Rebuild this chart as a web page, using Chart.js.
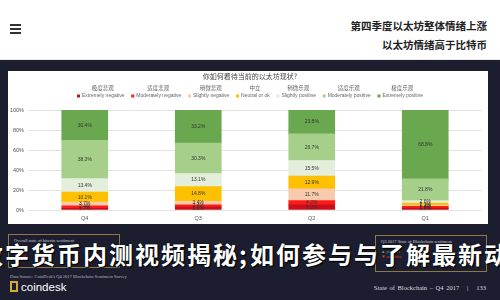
<!DOCTYPE html>
<html>
<head>
<meta charset="utf-8">
<script src="https://cdn.jsdelivr.net/npm/chart.js@4.4.1/dist/chart.umd.min.js"></script>
<style>
  html, body { margin: 0; padding: 0; }
  body { width: 500px; height: 300px; position: relative; overflow: hidden; background: #1c1e30; font-family: "Noto Sans CJK SC", "Liberation Sans", sans-serif; }
  #top { position: absolute; left: 0; top: 0; width: 500px; height: 59px; background: #fff; border-bottom: 1px solid #e8e8e8; }
  #burger { position: absolute; left: 10px; top: 24px; width: 11px; }
  #burger div { height: 2px; background: #333; margin-bottom: 2px; }
  #head { position: absolute; right: 13px; top: 16px; text-align: right; font-size: 10.5px; font-weight: bold; color: #222; line-height: 19px; }
  #panel { position: absolute; left: 8px; top: 71px; width: 480px; height: 153px; background: #fff; }
  #panel canvas { position: absolute; left: 0; top: 0; }
  .box { position: absolute; border: 1px solid #8c7a45; color: #ccc; font-family: "Liberation Serif", serif; font-size: 4.5px; padding: 3px 5px; box-sizing: border-box; }
  #caption { position: absolute; left: -21px; top: 236px; white-space: nowrap; font-size: 24px; font-weight: bold; letter-spacing: 2px; color: #fff; text-shadow: 0 0 2px #000, 1px 1px 1px #000; }
  #caption .p { display: inline-block; width: 11px; overflow: visible; }
  #src { position: absolute; left: 10px; top: 274px; font-family: "Liberation Serif", serif; font-size: 4.5px; color: #bbb; }
  #logo { position: absolute; left: 10px; top: 281px; font-family: "Liberation Sans", sans-serif; font-size: 11.5px; color: #fff; }
  #logo span { display: inline-block; width: 8px; height: 11px; border: 2px solid #d9a833; box-sizing: border-box; margin-right: 3px; vertical-align: -1px; }
  #page { position: absolute; right: 14px; top: 284px; font-family: "Liberation Serif", serif; font-size: 6.5px; color: #ddd; word-spacing: 1px; }
</style>
</head>
<body>
<div id="top">
  <div id="burger"><div></div><div></div><div></div></div>
  <div id="head">第四季度以太坊整体情绪上涨<br>以太坊情绪高于比特币</div>
</div>
<div id="panel"><canvas id="chart" width="480" height="153"></canvas></div>
<div class="box" style="left:8px;top:234px;width:112px;height:34px;">Overall state of bitcoin sentiment<br><br><span style="color:#4caf50">▲ 81%</span><br><span style="color:#e53935">▼ 7%</span></div>
<div class="box" style="left:375px;top:235px;width:112px;height:37px;">Q3 2017 State of Blockchain sentiment<br><br><span style="color:#4caf50">▲ positive</span><br><span style="color:#e53935">▼ negative</span></div>
<div id="caption">数字货币内测视频揭秘<span class="p">;</span>如何参与与了解最新动态</div>
<div id="src">Data Source: CoinDesk's Q4 2017 Blockchain Sentiment Survey</div>
<div id="logo"><span></span>coindesk</div>
<div id="page">State of Blockchain – Q4 2017 &nbsp; | &nbsp; 133</div>

<script>
// quarters, left to right
const quarters = ['Q4', 'Q3', 'Q2', 'Q1'];

// share of answers per sentiment, % of respondents
const extremelyNegative  = [1.7, 2.8, 5.2, 1.8];
const moderatelyNegative = [2.4, 2.4, 4.2, 1.8];
const slightlyNegative   = [3.7, 3.4, 11.7, 1.1];
const neutral            = [10.1, 14.8, 12.9, 2.1];
const slightlyPositive   = [13.4, 13.1, 15.5, 2.6];
const moderatelyPositive = [38.3, 30.3, 26.7, 21.8];
const extremelyPositive  = [30.4, 33.2, 23.8, 68.8];

const seriesEn = ['Extremely negative', 'Moderately negative', 'Slightly negative', 'Neutral or ok',
                  'Slightly positive', 'Moderately positive', 'Extremely positive'];
const seriesZh = ['极度悲观', '适度悲观', '稍微悲观', '中立', '稍微乐观', '适度乐观', '极度乐观'];
const yTicks = [0, 20, 40, 60, 80, 100];

const colors = ['#c8101a', '#ff1a1a', '#f8cbad', '#ffc000', '#e3eedb', '#a6cf8a', '#6aa84f'];
const values = [extremelyNegative, moderatelyNegative, slightlyNegative, neutral,
                slightlyPositive, moderatelyPositive, extremelyPositive];

const datasets = values.map((v, i) => ({
  label: seriesEn[i],
  data: v,
  backgroundColor: colors[i],
  borderWidth: 0,
  barThickness: 46
}));

// values written in the middle of each segment
const segmentLabels = {
  id: 'segmentLabels',
  afterDatasetsDraw(chart) {
    const ctx = chart.ctx;
    ctx.save();
    ctx.font = '5px "Liberation Sans", sans-serif';
    ctx.fillStyle = '#333';
    ctx.textAlign = 'center';
    ctx.textBaseline = 'middle';
    chart.data.datasets.forEach((ds, i) => {
      chart.getDatasetMeta(i).data.forEach((bar, j) => {
        const p = bar.getProps(['x', 'y', 'base'], true);
        ctx.fillText(ds.data[j].toFixed(1) + '%', p.x, (p.y + p.base) / 2);
      });
    });
    ctx.restore();
  }
};

// title and two-line legend (chinese above english)
const header = {
  id: 'header',
  afterDraw(chart) {
    const ctx = chart.ctx;
    ctx.save();
    ctx.textBaseline = 'middle';
    ctx.textAlign = 'center';
    ctx.fillStyle = '#444';
    ctx.font = '7px "Noto Sans CJK SC", sans-serif';
    ctx.fillText('你如何看待当前的以太坊现状?', chart.width / 2 + 2, 5);

    ctx.font = '5px "Liberation Sans", sans-serif';
    const widths = seriesEn.map(t => ctx.measureText(t).width + 5);
    const span = 346;
    const gap = (span - widths.reduce((a, b) => a + b, 0)) / (widths.length - 1);
    let x = chart.width / 2 + 2 - span / 2;
    seriesEn.forEach((t, i) => {
      ctx.fillStyle = colors[i];
      ctx.fillRect(x, 23.5, 3, 3);
      ctx.fillStyle = '#666';
      ctx.textAlign = 'left';
      ctx.font = '5px "Liberation Sans", sans-serif';
      ctx.fillText(t, x + 5, 25);
      ctx.textAlign = 'center';
      ctx.font = '5.5px "Noto Sans CJK SC", sans-serif';
      ctx.fillText(seriesZh[i], x + widths[i] / 2 + 2, 17);
      x += widths[i] + gap;
    });
    ctx.restore();
  }
};

new Chart(document.getElementById('chart').getContext('2d'), {
  type: 'bar',
  data: { labels: quarters, datasets: datasets },
  options: {
    responsive: false,
    animation: false,
    layout: { padding: { top: 39, right: 6, left: 0, bottom: 0 } },
    plugins: { legend: { display: false }, title: { display: false }, tooltip: { enabled: false } },
    scales: {
      x: {
        stacked: true,
        grid: { display: false, drawTicks: false },
        border: { display: false },
        ticks: { font: { size: 5.5, family: 'Liberation Sans' }, color: '#555', padding: 5 },
        afterFit(s) { s.height = 14; }
      },
      y: {
        stacked: true,
        min: 0,
        max: 100,
        afterBuildTicks(s) { s.ticks = yTicks.map(v => ({ value: v })); },
        grid: { color: '#e3e3e3', drawTicks: false },
        border: { display: false },
        ticks: { font: { size: 5.5, family: 'Liberation Sans' }, color: '#555', padding: 4, callback: v => v + '%' },
        afterFit(s) { s.width = 20; }
      }
    }
  },
  plugins: [segmentLabels, header]
});
</script>
</body>
</html>
